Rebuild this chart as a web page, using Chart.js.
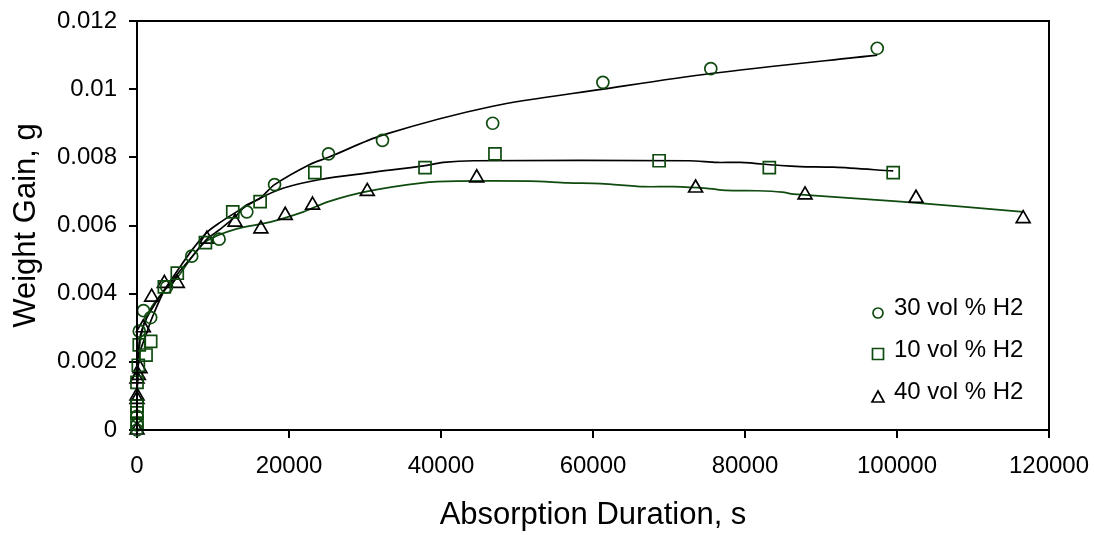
<!DOCTYPE html>
<html lang="en">
<head>
    <meta charset="UTF-8">
    <title>Weight Gain</title>
    <script src="https://cdn.jsdelivr.net/npm/chart.js@4.4.1/dist/chart.umd.min.js"></script>
    <style>
        body { margin: 0; background: #fff; }
        .grafico { width: 1094px; height: 535px; }
    </style>
</head>
<body>
    <div class="grafico">
        <canvas id="myChart" width="1094" height="535"></canvas>
    </div>

    <script>
        // pontos medidos - 30 vol % H2 (circulos)
        const x30 = [0, 0, 0, 300, 850, 1800, 3900, 7200, 10800, 14450, 18100, 25200, 32300, 46800, 61300, 75500, 97400];
        const y30 = [0, 0.00015, 0.0004, 0.0029, 0.0035, 0.0033, 0.0042, 0.0051, 0.0056, 0.0064, 0.0072, 0.0081, 0.0085, 0.0090, 0.0102, 0.0106, 0.0112];

        // pontos medidos - 10 vol % H2 (quadrados)
        const x10 = [0, 0, 0, 0, 175, 300, 1190, 1800, 3600, 5300, 9000, 12600, 16200, 23400, 37900, 47100, 68700, 83200, 99500];
        const y10 = [0.0002, 0.0005, 0.0007, 0.0014, 0.0019, 0.0025, 0.0022, 0.0026, 0.0042, 0.0046, 0.0055, 0.0064, 0.0067, 0.00755, 0.0077, 0.0081, 0.0079, 0.0077, 0.00755];

        // pontos medidos - 40 vol % H2 (triangulos)
        const x40 = [0, 0, 0, 0, 175, 400, 830, 1930, 3600, 5300, 9200, 12900, 16300, 19500, 23100, 30300, 44700, 73500, 87900, 102500, 116600];
        const y40 = [0, 0.0009, 0.0010, 0.0015, 0.0016, 0.0018, 0.0030, 0.0039, 0.0043, 0.0043, 0.0056, 0.0061, 0.0059, 0.0063, 0.0066, 0.0070, 0.0074, 0.0071, 0.0069, 0.0068, 0.0062];

        // curvas de ajuste
        const xFit30 = [0, 300, 900, 1800, 3600, 5400, 7300, 9200, 11000, 13100, 14400, 16200, 18100, 22800, 25200, 32300, 46800, 61300, 75500, 97400];
        const yFit30 = [0.0012, 0.0026, 0.0031, 0.0035, 0.0041, 0.0046, 0.0051, 0.0056, 0.0059, 0.0063, 0.0066, 0.0068, 0.0072, 0.0078, 0.0080, 0.00865, 0.0095, 0.0100, 0.01046, 0.0110];

        const xFit10 = [0, 300, 1200, 2000, 3600, 5400, 7300, 9200, 11000, 13100, 16200, 19300, 24100, 30700, 37700, 40300, 44300, 72600, 76300, 79400, 84700, 87300, 91700, 99500];
        const yFit10 = [0.0010, 0.0022, 0.0028, 0.0033, 0.0041, 0.0047, 0.0053, 0.0058, 0.0061, 0.0064, 0.0068, 0.0071, 0.00735, 0.00755, 0.00775, 0.00785, 0.0079, 0.0079, 0.00785, 0.00785, 0.00776, 0.00773, 0.00771, 0.0076];

        const xFit40 = [0, 300, 900, 1900, 3600, 5400, 7300, 9200, 13100, 17500, 21900, 25200, 30300, 37600, 42100, 51700, 56700, 61000, 66700, 70600, 75000, 77600, 81600, 84900, 86400, 100500, 116600];
        const yFit40 = [0.0012, 0.0024, 0.0031, 0.0036, 0.0041, 0.0045, 0.0051, 0.00555, 0.0059, 0.0061, 0.0064, 0.0067, 0.0070, 0.00725, 0.0073, 0.0073, 0.00725, 0.00723, 0.00714, 0.00714, 0.00709, 0.00703, 0.00702, 0.00698, 0.00692, 0.0067, 0.0064];

        const xTicks = [0, 20000, 40000, 60000, 80000, 100000, 120000];
        const yTicks = [0, 0.002, 0.004, 0.006, 0.008, 0.01, 0.012];

        const verde = '#0f4a0f';
        const preto = '#000000';
        const fonte = 'Liberation Sans, Arial, sans-serif';

        function pares(xs, ys) {
            return xs.map(function (x, i) { return { x: x, y: ys[i] }; });
        }

        function marcadores(label, xs, ys, estilo, raio, cor) {
            return {
                label: label,
                data: pares(xs, ys),
                showLine: false,
                pointStyle: estilo,
                pointRadius: raio,
                pointBorderWidth: 1.7,
                pointBorderColor: cor,
                pointBackgroundColor: 'rgba(0,0,0,0)',
                clip: false,
                order: 0
            };
        }

        function curva(xs, ys, cor) {
            return {
                label: '',
                data: pares(xs, ys),
                showLine: true,
                pointRadius: 0,
                borderColor: cor,
                borderWidth: 1.7,
                tension: 0.3,
                fill: false,
                clip: false,
                order: 1
            };
        }

        // moldura e legenda desenhadas a mao
        const moldura = {
            id: 'moldura',
            afterDraw(chart) {
                const ctx = chart.ctx;
                const a = chart.chartArea;
                ctx.save();
                ctx.strokeStyle = '#000';
                ctx.lineWidth = 2;
                ctx.strokeRect(a.left, a.top, a.right - a.left, a.bottom - a.top);

                const itens = [
                    { txt: '30 vol % H2', forma: 'circulo', cor: verde, ym: 313, yt: 308 },
                    { txt: '10 vol % H2', forma: 'quadrado', cor: verde, ym: 354, yt: 350 },
                    { txt: '40 vol % H2', forma: 'triangulo', cor: preto, ym: 397, yt: 392 }
                ];
                const xm = a.right - 171;
                itens.forEach(function (it) {
                    ctx.strokeStyle = it.cor;
                    ctx.lineWidth = 1.7;
                    ctx.beginPath();
                    if (it.forma == 'circulo') {
                        ctx.arc(xm, it.ym, 5, 0, Math.PI * 2);
                    } else if (it.forma == 'quadrado') {
                        ctx.rect(xm - 5.5, it.ym - 5.5, 11, 11);
                    } else {
                        ctx.moveTo(xm, it.ym - 6);
                        ctx.lineTo(xm + 6, it.ym + 5);
                        ctx.lineTo(xm - 6, it.ym + 5);
                        ctx.closePath();
                    }
                    ctx.stroke();
                    ctx.fillStyle = '#000';
                    ctx.font = '24px ' + fonte;
                    ctx.textBaseline = 'middle';
                    ctx.textAlign = 'left';
                    ctx.fillText(it.txt, xm + 16, it.yt);
                });
                ctx.restore();
            }
        };

        const dados = {
            datasets: [
                marcadores('30 vol % H2', x30, y30, 'circle', 6, verde),
                marcadores('10 vol % H2', x10, y10, 'rect', 8.5, verde),
                marcadores('40 vol % H2', x40, y40, 'triangle', 8, preto),
                curva(xFit30, yFit30, preto),
                curva(xFit10, yFit10, preto),
                curva(xFit40, yFit40, verde)
            ]
        };

        const config = {
            type: 'scatter',
            data: dados,
            plugins: [moldura],
            options: {
                responsive: false,
                animation: false,
                layout: { padding: { top: 21, right: 45, bottom: 0, left: 0 } },
                plugins: {
                    legend: { display: false },
                    tooltip: { enabled: false }
                },
                scales: {
                    x: {
                        type: 'linear',
                        min: 0,
                        max: 120000,
                        afterBuildTicks: function (s) { s.ticks = xTicks.map(function (v) { return { value: v }; }); },
                        afterFit: function (s) { s.height = 105; s.paddingLeft = 0; s.paddingRight = 0; },
                        grid: { drawOnChartArea: false, drawTicks: true, tickLength: 8, color: '#000', lineWidth: 2 },
                        border: { display: true, color: '#000', width: 2 },
                        ticks: {
                            color: '#000',
                            font: { family: fonte, size: 24 },
                            padding: 14,
                            maxRotation: 0,
                            callback: function (v) { return String(v); }
                        },
                        title: {
                            display: true,
                            text: 'Absorption Duration, s',
                            color: '#000',
                            font: { family: fonte, size: 31 },
                            padding: { top: 0, bottom: 1 }
                        }
                    },
                    y: {
                        type: 'linear',
                        min: 0,
                        max: 0.012,
                        afterBuildTicks: function (s) { s.ticks = yTicks.map(function (v) { return { value: v }; }); },
                        afterFit: function (s) { s.width = 137; s.paddingTop = 0; s.paddingBottom = 0; },
                        grid: { drawOnChartArea: false, drawTicks: true, tickLength: 8, color: '#000', lineWidth: 2 },
                        border: { display: true, color: '#000', width: 2 },
                        ticks: {
                            color: '#000',
                            font: { family: fonte, size: 24 },
                            padding: 12,
                            callback: function (v) { return String(Number(v.toFixed(3))); }
                        },
                        title: {
                            display: true,
                            text: 'Weight Gain, g',
                            color: '#000',
                            font: { family: fonte, size: 31 },
                            padding: { top: 8, bottom: 0 }
                        }
                    }
                }
            }
        };

        let myChart = new Chart(document.getElementById('myChart'), config);
    </script>
</body>
</html>
